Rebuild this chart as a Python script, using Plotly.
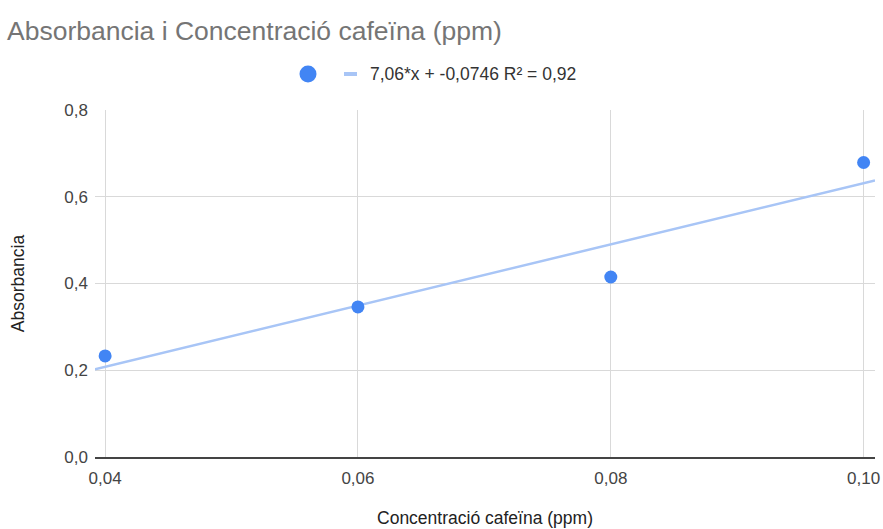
import plotly.graph_objects as go

# ---- data ----
concentracio = [0.04, 0.06, 0.08, 0.10]
absorbancia = [0.233, 0.346, 0.415, 0.679]
slope = 7.06
intercept = -0.0746
x_range = [0.0392, 0.1009]
y_range = [0.0, 0.8]
x_ticks = [0.04, 0.06, 0.08, 0.10]
x_ticklabels = ["0,04", "0,06", "0,08", "0,10"]
y_ticks = [0.0, 0.2, 0.4, 0.6, 0.8]
y_ticklabels = ["0,0", "0,2", "0,4", "0,6", "0,8"]
title_text = "Absorbancia i Concentració cafeïna (ppm)"
x_title = "Concentració cafeïna (ppm)"
y_title = "Absorbancia"
legend_text = "7,06*x + -0,0746 R² = 0,92"

# ---- layout geometry (page pixels; body margin removed via post_script) ----
W, H = 883, 529
PLOT_X0, PLOT_X1, PLOT_Y0, PLOT_Y1 = 95, 875, 110, 457
L, R, T, B = PLOT_X0, W - PLOT_X1, PLOT_Y0, H - PLOT_Y1
PW, PH = PLOT_X1 - PLOT_X0, PLOT_Y1 - PLOT_Y0

def px(xp):
    return (xp - PLOT_X0) / PW

def py(yp):
    return (PLOT_Y1 - yp) / PH

FONT = "Arial, 'Liberation Sans', sans-serif"

trend_x = x_range
trend_y = [slope * v + intercept for v in trend_x]

fig = go.Figure()
fig.add_trace(go.Scatter(
    x=trend_x, y=trend_y, mode="lines",
    line=dict(color="#a8c5f6", width=2.5),
    showlegend=False, hoverinfo="skip",
))
fig.add_trace(go.Scatter(
    x=concentracio, y=absorbancia, mode="markers",
    marker=dict(color="#4285f4", size=13),
    showlegend=False,
))

# manual legend (circle, short line, text)
lx, ly, lr = 308, 74, 8.5
fig.add_shape(type="circle", xref="paper", yref="paper",
              x0=px(lx - lr), x1=px(lx + lr), y0=py(ly + lr), y1=py(ly - lr),
              fillcolor="#4285f4", line=dict(width=0))
fig.add_shape(type="line", xref="paper", yref="paper",
              x0=px(344), x1=px(357), y0=py(74), y1=py(74),
              line=dict(color="#a8c5f6", width=4))
fig.add_annotation(xref="paper", yref="paper", x=px(368), y=py(74),
                   text=legend_text, showarrow=False, xanchor="left", yanchor="middle",
                   font=dict(family=FONT, size=17.5, color="#333333"))

fig.update_layout(
    width=W, height=H,
    margin=dict(l=L, r=R, t=T, b=B, pad=0, autoexpand=False),
    paper_bgcolor="white", plot_bgcolor="white",
    font=dict(family=FONT, color="#444444"),
    title=dict(text=title_text, xref="container", yref="container",
               x=7 / W, xanchor="left", y=1 - 31 / H, yanchor="middle",
               pad=dict(l=0, r=0, t=0, b=0),
               font=dict(family=FONT, size=26.5, color="#757575")),
    showlegend=False,
)
fig.update_xaxes(
    range=x_range, tickvals=x_ticks, ticktext=x_ticklabels,
    showgrid=True, gridcolor="#d9d9d9", gridwidth=1,
    zeroline=False, showline=True, linecolor="#444444", linewidth=1.5,
    ticks="", tickfont=dict(size=17, color="#444444"), automargin=False,
    ticklabeloverflow="allow", ticklabelstandoff=5,
    title=dict(text=x_title, font=dict(size=17.5, color="#222222"), standoff=25),
)
fig.update_yaxes(
    range=y_range, tickvals=y_ticks, ticktext=y_ticklabels,
    showgrid=True, gridcolor="#d9d9d9", gridwidth=1,
    zeroline=False, showline=False,
    ticks="", tickfont=dict(size=17, color="#444444"), automargin=False,
    ticklabeloverflow="allow", ticklabelstandoff=6,
    title=dict(text=y_title, font=dict(size=17.5, color="#222222"), standoff=35),
)

fig.write_html(
    "out.html",
    config={"displayModeBar": False},
    post_script="document.body.style.margin='0';document.body.style.overflow='hidden';",
)
